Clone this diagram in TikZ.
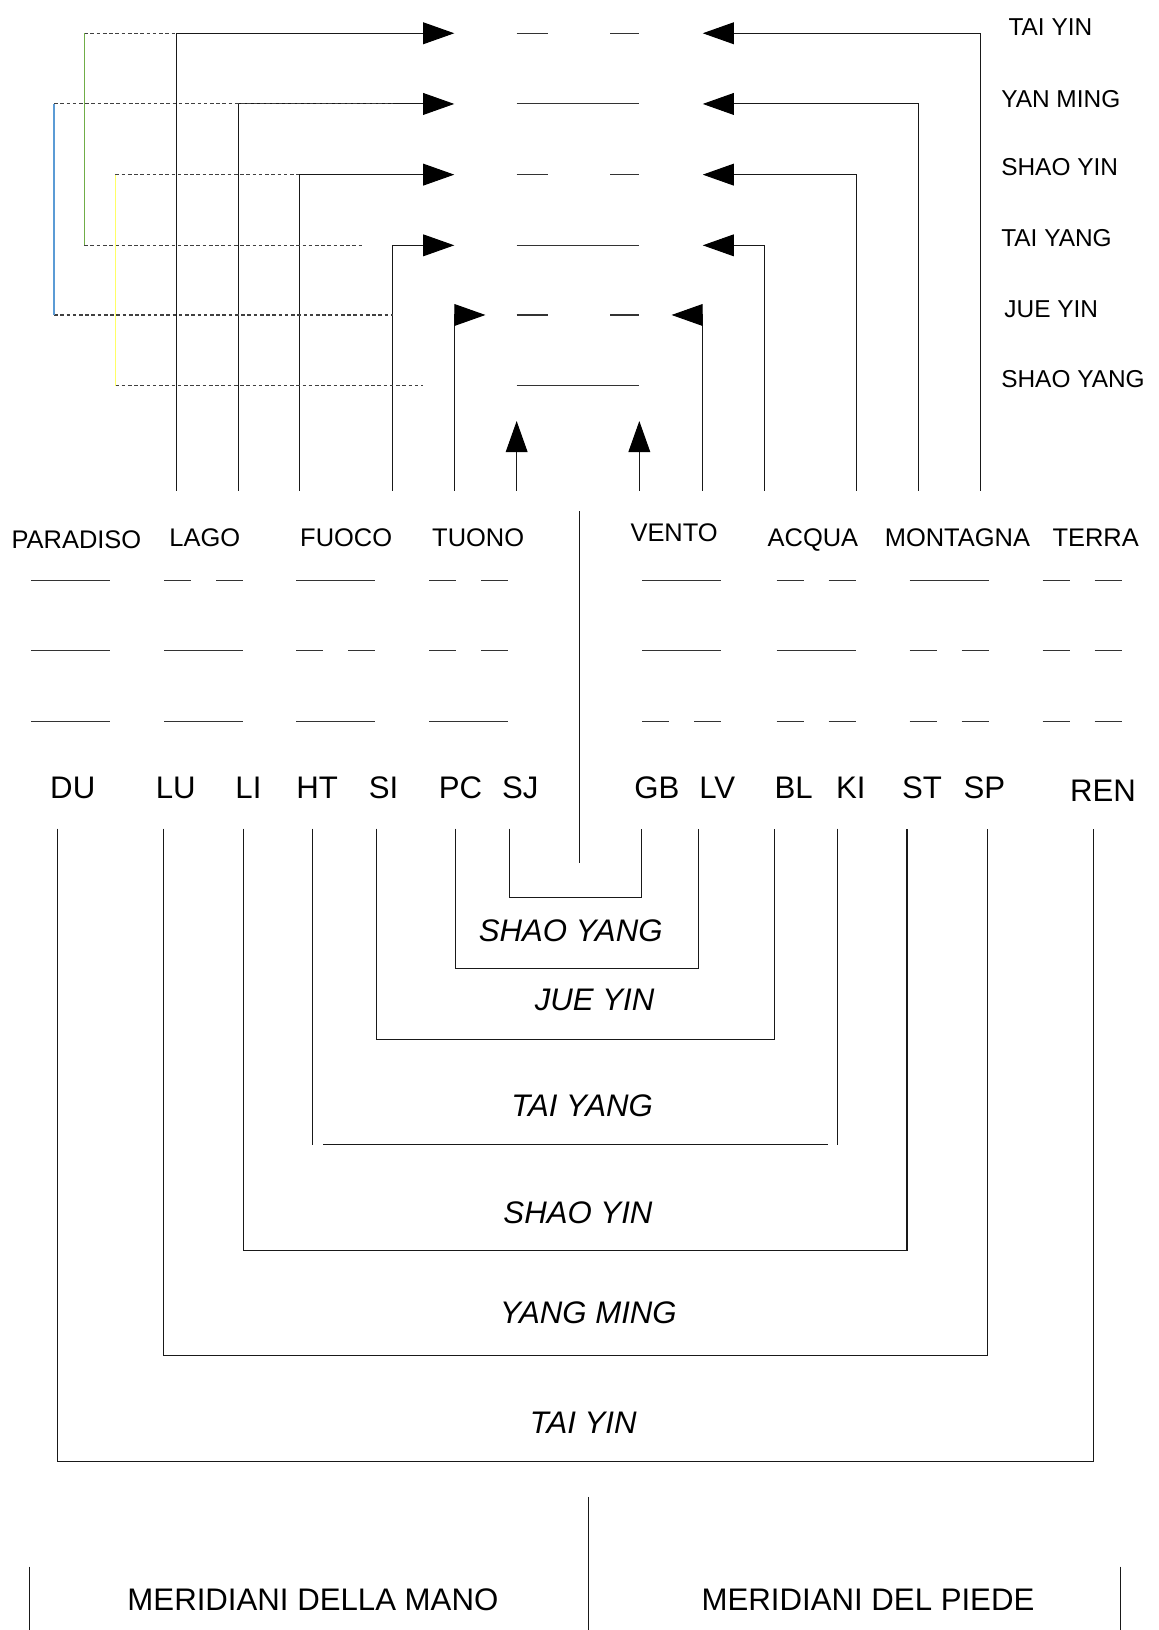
\documentclass[tikz,border=0pt]{standalone}
\usepackage{fontspec}
\setmainfont{Liberation Sans}
\usetikzlibrary{arrows.meta}
\definecolor{mygreen}{HTML}{70AD47}
\definecolor{myblue}{HTML}{5B9BD5}
\definecolor{myyellow}{HTML}{FFFF66}
\tikzset{
	wire/.style={
			draw=black!90,
			line width=1pt
		},
	tipline/.style={
			wire,
			-{Triangle[length=30pt,width=21pt,color=black]}
		},
	dotline/.style={
			draw=black!75,
			line width=1pt,
			dash pattern=on 3.5pt off 2.5pt
		},
	trig/.style={
			draw=black!80,
			line width=1pt
		},
	rowlabel/.style={
			inner sep=0pt,
			text depth=0pt,
			anchor=west,
			font=\fontsize{23.5}{28}\selectfont
		},
	trilabel/.style={
			inner sep=0pt,
			text depth=0pt,
			font=\fontsize{24.5}{29}\selectfont
		},
	merlabel/.style={
			inner sep=0pt,
			text depth=0pt,
			font=\fontsize{30}{36}\selectfont
		},
	pairlabel/.style={
			merlabel,
			font=\fontsize{30}{36}\selectfont\itshape
		}
}
\newcommand{\yangline}[2]{\draw[trig] (#1-38,#2) -- (#1+38,#2);}
\newcommand{\yinline}[2]{\draw[trig] (#1-38,#2) -- (#1-12,#2) (#1+12,#2) -- (#1+38,#2);}

\begin{document}
\begin{tikzpicture}[x=1pt, y=-1pt]
\useasboundingbox (0,0) rectangle (1114,1568);

% labels of the six rows
\node[rowlabel] (rty) at (970,26) {TAI YIN};
\node[rowlabel] (rym) at (963,95) {YAN MING};
\node[rowlabel] (rsy) at (963,161) {SHAO YIN};
\node[rowlabel] (rtg) at (963,229) {TAI YANG};
\node[rowlabel] (rjy) at (966,297) {JUE YIN};
\node[rowlabel] (rsg) at (963,365) {SHAO YANG};

% six lines in the middle
\draw[trig] (497,32) -- (527,32) (587,32) -- (615,32);
\draw[trig] (497,100) -- (615,100);
\draw[trig] (497,168) -- (527,168) (587,168) -- (615,168);
\draw[trig] (497,236) -- (615,236);
\draw[trig] (497,303) -- (527,303) (587,303) -- (615,303);
\draw[trig] (497,371) -- (615,371);

\coordinate (a1) at (170,472); \coordinate (t1) at (437,32);
\coordinate (a2) at (229,472); \coordinate (t2) at (437,100);
\coordinate (a3) at (288,472); \coordinate (t3) at (437,168);
\coordinate (a4) at (378,472); \coordinate (t4) at (437,236);
\coordinate (a5) at (437,472); \coordinate (t5) at (467,303);
\coordinate (a6) at (497,472); \coordinate (t6) at (497,405);
\coordinate (b1) at (943,472); \coordinate (u1) at (676,32);
\coordinate (b2) at (884,472); \coordinate (u2) at (676,100);
\coordinate (b3) at (824,472); \coordinate (u3) at (676,168);
\coordinate (b4) at (735,472); \coordinate (u4) at (676,236);
\coordinate (b5) at (676,472); \coordinate (u5) at (646,303);
\coordinate (b6) at (615,472); \coordinate (u6) at (615,405);

\draw[tipline] (a1) |- (t1);
\draw[tipline] (a2) |- (t2);
\draw[tipline] (a3) |- (t3);
\draw[tipline] (a4) |- (t4);
\draw[tipline] (a5) |- (t5);
\draw[tipline] (a6) -- (t6);
\draw[tipline] (b1) |- (u1);
\draw[tipline] (b2) |- (u2);
\draw[tipline] (b3) |- (u3);
\draw[tipline] (b4) |- (u4);
\draw[tipline] (b5) |- (u5);
\draw[tipline] (b6) -- (u6);

% coloured links on the left
\coordinate (g1) at (81,32); \coordinate (g2) at (81,236);
\coordinate (k1) at (52,100); \coordinate (k2) at (52,303);
\coordinate (y1) at (111,168); \coordinate (y2) at (111,371);
\coordinate (e4) at (349,236); \coordinate (e6) at (407,371);
\draw[dotline] (g1) -- (a1 |- g1);
\draw[dotline] (g2) -- (e4);
\draw[dotline] (k1) -- (a4 |- k1);
\draw[dotline] (k2) -- (a4 |- k2);
\draw[dotline] (y1) -- (a3 |- y1);
\draw[dotline] (y2) -- (e6);
\draw[mygreen, line width=1.2pt] (g1) -- (g2);
\draw[myblue, line width=1.2pt] (k1) -- (k2);
\draw[myyellow, line width=1.2pt] (y1) -- (y2);

% trigrams
\node[trilabel] (paradiso) at (73.5,519) {PARADISO};
\node[trilabel] (lago) at (197,517) {LAGO};
\node[trilabel] (fuoco) at (333,517) {FUOCO};
\node[trilabel] (tuono) at (460,517) {TUONO};
\node[trilabel] (vento) at (648.5,512) {VENTO};
\node[trilabel] (acqua) at (782,517) {ACQUA};
\node[trilabel] (montagna) at (921,517) {MONTAGNA};
\node[trilabel] (terra) at (1054,517) {TERRA};

\yangline{68}{558} \yangline{68}{626} \yangline{68}{694}
\yinline{196}{558} \yangline{196}{626} \yangline{196}{694}
\yangline{323}{558} \yinline{323}{626} \yangline{323}{694}
\yinline{451}{558} \yinline{451}{626} \yangline{451}{694}
\yangline{656}{558} \yangline{656}{626} \yinline{656}{694}
\yinline{785}{558} \yangline{785}{626} \yinline{785}{694}
\yangline{913}{558} \yinline{913}{626} \yinline{913}{694}
\yinline{1041}{558} \yinline{1041}{626} \yinline{1041}{694}

\coordinate (c1) at (557,492); \coordinate (c2) at (557,830);
\draw[wire] (c1) -- (c2);

% meridians
\node[merlabel] (DU) at (70,758) {DU};
\node[merlabel] (LU) at (169,758) {LU};
\node[merlabel] (LI) at (239,758) {LI};
\node[merlabel] (HT) at (305,758) {HT};
\node[merlabel] (SI) at (369,758) {SI};
\node[merlabel] (PC) at (443,758) {PC};
\node[merlabel] (SJ) at (500.5,758) {SJ};
\node[merlabel] (GB) at (632,758) {GB};
\node[merlabel] (LV) at (690,758) {LV};
\node[merlabel] (BL) at (763.5,758) {BL};
\node[merlabel] (KI) at (818.5,758) {KI};
\node[merlabel] (ST) at (887,758) {ST};
\node[merlabel] (SP) at (947,758) {SP};
\node[merlabel] (REN) at (1061,761) {REN};

\coordinate (du) at (55,797);
\coordinate (lu) at (157,797);
\coordinate (li) at (234,797);
\coordinate (ht) at (301,797);
\coordinate (si) at (362,797);
\coordinate (pc) at (438,797);
\coordinate (sj) at (490,797);
\coordinate (gb) at (617.5,797);
\coordinate (lv) at (672,797);
\coordinate (bl) at (745,797);
\coordinate (ki) at (806,797);
\coordinate (st) at (872.5,797);
\coordinate (sp) at (950,797);
\coordinate (ren) at (1052,797);

\draw[wire] (sj) -- ++(0,66.5) -| (gb);
\draw[wire] (pc) -- ++(0,134.5) -| (lv);
\draw[wire] (si) -- ++(0,202.5) -| (bl);
\draw[wire] (ht) -- ++(0,304);
\draw[wire] (ki) -- ++(0,304);
\draw[wire] (311,1101) -- (796.5,1101);
\draw[wire] (li) -- ++(0,405.5) -| (st);
\draw[wire] (lu) -- ++(0,507) -| (sp);
\draw[wire] (du) -- ++(0,609) -| (ren);

\node[pairlabel] (lsg) at (549,895) {SHAO YANG};
\node[pairlabel] (ljy) at (572,962) {JUE YIN};
\node[pairlabel] (ltg) at (560,1064) {TAI YANG};
\node[pairlabel] (lsy) at (556,1166) {SHAO YIN};
\node[pairlabel] (lym) at (566,1263) {YANG MING};
\node[pairlabel] (lty) at (561,1369) {TAI YIN};

% hand and foot
\node[merlabel] (mano) at (301,1539) {MERIDIANI DELLA MANO};
\node[merlabel] (piede) at (835,1539) {MERIDIANI DEL PIEDE};
\coordinate (s1) at (566,1440); \coordinate (s2) at (566,1568);
\coordinate (s3) at (28.5,1507); \coordinate (s4) at (28.5,1568);
\coordinate (s5) at (1077.5,1507); \coordinate (s6) at (1077.5,1568);
\draw[wire] (s1) -- (s2);
\draw[wire] (s3) -- (s4);
\draw[wire] (s5) -- (s6);
\end{tikzpicture}
\end{document}
